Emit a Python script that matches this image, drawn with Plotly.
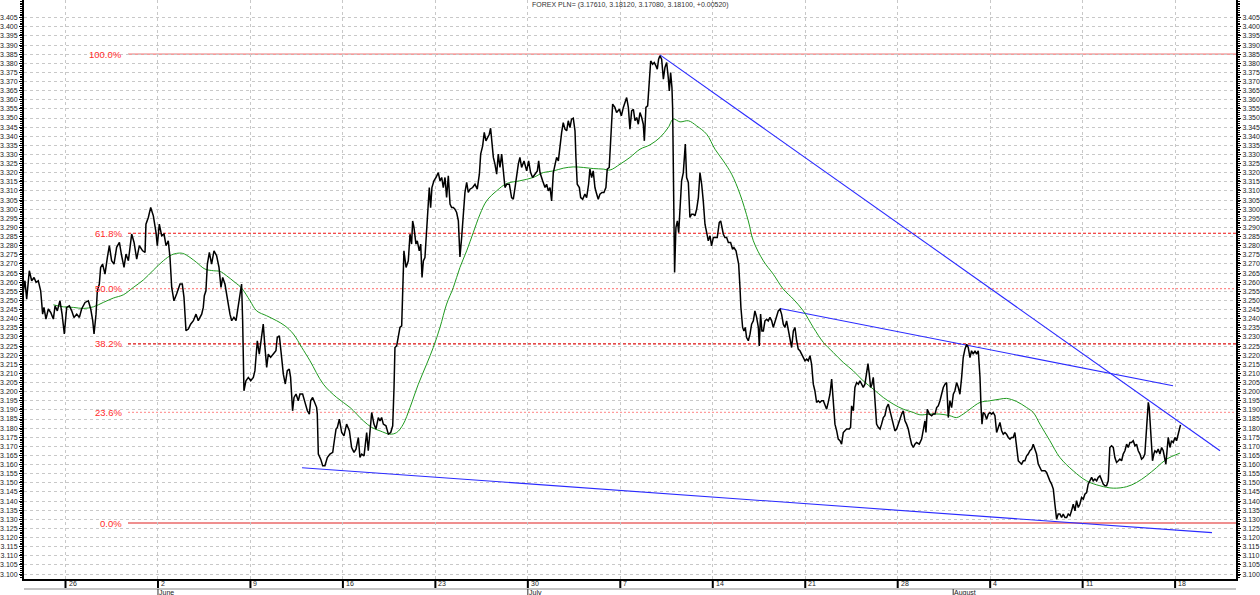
import plotly.graph_objects as go

title_text = "FOREX PLN= (3.17610, 3.18120, 3.17080, 3.18100, +0.00520)"

# price series: (days since 26 May, price)
price_june = [
    (-3.19, 3.2553), (-3.07, 3.2608), (-2.94, 3.2507), (-2.74, 3.2663), (-2.56, 3.2608), (-2.38, 3.2626),
    (-2.23, 3.2599), (-2.06, 3.2608), (-1.88, 3.2553), (-1.73, 3.2425), (-1.63, 3.2462), (-1.48, 3.2398),
    (-1.30, 3.2453), (-1.12, 3.2434), (-0.92, 3.2398), (-0.79, 3.2471), (-0.62, 3.2443), (-0.42, 3.2498),
    (-0.26, 3.2425), (-0.09, 3.2316), (0.09, 3.2462), (0.29, 3.2471), (0.47, 3.2443), (0.64, 3.2407),
    (0.85, 3.2425), (1.05, 3.2407), (1.22, 3.2453), (1.48, 3.2489), (1.73, 3.2498), (1.91, 3.2453),
    (2.06, 3.2389), (2.16, 3.2316), (2.31, 3.2425), (2.41, 3.2553), (2.56, 3.2590), (2.66, 3.2681),
    (2.81, 3.2699), (2.99, 3.2644), (3.17, 3.2736), (3.32, 3.2800), (3.49, 3.2718), (3.67, 3.2699),
    (3.87, 3.2791), (4.08, 3.2818), (4.25, 3.2745), (4.43, 3.2681), (4.58, 3.2754), (4.76, 3.2718),
    (5.01, 3.2864), (5.19, 3.2818), (5.39, 3.2727), (5.59, 3.2800), (5.84, 3.2772), (6.02, 3.2763),
    (6.09, 3.2918), (6.27, 3.2955), (6.45, 3.3010), (6.65, 3.2964), (6.85, 3.2873), (6.95, 3.2800),
    (7.10, 3.2918), (7.28, 3.2855), (7.46, 3.2864), (7.61, 3.2800), (7.78, 3.2827), (7.91, 3.2736),
    (8.04, 3.2571), (8.21, 3.2498), (8.41, 3.2535), (8.67, 3.2590), (8.84, 3.2590), (8.97, 3.2517),
    (9.12, 3.2334), (9.30, 3.2343), (9.47, 3.2370), (9.68, 3.2389), (9.88, 3.2425), (10.05, 3.2389),
    (10.31, 3.2425), (10.43, 3.2462), (10.51, 3.2526), (10.63, 3.2553), (10.74, 3.2699), (10.89, 3.2763),
    (11.06, 3.2699), (11.24, 3.2772), (11.44, 3.2745), (11.62, 3.2681), (11.77, 3.2571), (11.90, 3.2626),
    (12.07, 3.2590), (12.20, 3.2535), (12.33, 3.2462), (12.45, 3.2425), (12.58, 3.2389), (12.75, 3.2407),
    (12.91, 3.2389), (13.08, 3.2480), (13.21, 3.2553), (13.33, 3.2590), (13.41, 3.2389), (13.51, 3.2005),
    (13.66, 3.2060), (13.84, 3.2078), (14.02, 3.2060), (14.22, 3.2078), (14.34, 3.2115), (14.52, 3.2279),
    (14.67, 3.2206), (14.85, 3.2297), (14.97, 3.2370), (15.10, 3.2242), (15.23, 3.2133), (15.35, 3.2206),
    (15.53, 3.2188), (15.73, 3.2206), (15.93, 3.2224), (16.03, 3.2297), (16.19, 3.2306), (16.36, 3.2188),
    (16.49, 3.2096), (16.64, 3.2042), (16.79, 3.2115), (16.94, 3.2124), (17.04, 3.2078), (17.19, 3.1895),
    (17.30, 3.1968), (17.45, 3.1987), (17.62, 3.1950), (17.75, 3.1987), (17.95, 3.1987), (18.13, 3.1941),
    (18.31, 3.1895), (18.46, 3.1877), (18.56, 3.1950), (18.71, 3.1968), (18.89, 3.1932), (19.01, 3.1914),
    (19.06, 3.1877), (19.14, 3.1658), (19.32, 3.1630), (19.47, 3.1594), (19.64, 3.1594), (19.82, 3.1639),
    (20.02, 3.1658), (20.23, 3.1667), (20.35, 3.1731), (20.48, 3.1795), (20.58, 3.1804), (20.73, 3.1849),
    (20.91, 3.1776), (21.08, 3.1758), (21.28, 3.1822), (21.49, 3.1786), (21.66, 3.1694), (21.84, 3.1667),
    (21.99, 3.1685), (22.17, 3.1749), (22.29, 3.1639), (22.42, 3.1658), (22.60, 3.1648), (22.80, 3.1776),
    (22.92, 3.1676), (23.05, 3.1795), (23.18, 3.1886), (23.35, 3.1822), (23.50, 3.1795), (23.68, 3.1858),
    (23.81, 3.1840), (23.93, 3.1858), (24.06, 3.1822), (24.26, 3.1813), (24.44, 3.1767), (24.62, 3.1776),
    (24.77, 3.1813), (24.87, 3.2023), (24.94, 3.2242), (25.07, 3.2251), (25.20, 3.2315), (25.32, 3.2352),
    (25.45, 3.2361), (25.57, 3.2662), (25.62, 3.2772), (25.78, 3.2681), (25.95, 3.2717), (26.08, 3.2863),
    (26.20, 3.2809), (26.28, 3.2936), (26.38, 3.2900), (26.53, 3.2809), (26.63, 3.2827), (26.78, 3.2772),
    (26.89, 3.2809), (26.99, 3.2626), (27.09, 3.2717), (27.21, 3.2735), (27.34, 3.2900), (27.42, 3.3028),
    (27.54, 3.3119), (27.64, 3.3009), (27.74, 3.3119), (27.89, 3.3156), (28.05, 3.3174), (28.22, 3.3201),
    (28.35, 3.3156), (28.48, 3.3174), (28.60, 3.3119), (28.73, 3.3174), (28.85, 3.3064), (28.98, 3.3183),
    (29.11, 3.3028), (29.23, 3.3009), (29.36, 3.3009), (29.48, 3.3000), (29.61, 3.2982), (29.74, 3.2936),
    (29.86, 3.2739), (29.99, 3.2845), (30.12, 3.3009), (30.24, 3.3092), (30.37, 3.3147), (30.49, 3.3092),
    (30.62, 3.3110), (30.82, 3.3119), (31.00, 3.3137), (31.17, 3.3110), (31.33, 3.3192), (31.43, 3.3302),
    (31.58, 3.3347), (31.70, 3.3421), (31.83, 3.3375), (31.93, 3.3393), (32.08, 3.3411), (32.18, 3.3444),
    (32.28, 3.3375), (32.39, 3.3284), (32.51, 3.3247), (32.64, 3.3192), (32.76, 3.3302), (32.89, 3.3229),
    (33.02, 3.3302), (33.14, 3.3192), (33.27, 3.3119), (33.40, 3.3137), (33.60, 3.3137), (33.77, 3.3064),
    (33.90, 3.3055), (34.03, 3.3119),
]

price_july = [
    (34.15, 3.3192), (34.28, 3.3247), (34.40, 3.3284), (34.53, 3.3229), (34.71, 3.3265), (34.91, 3.3210),
    (35.06, 3.3265), (35.21, 3.3201), (35.36, 3.3174), (35.54, 3.3192), (35.72, 3.3210), (35.82, 3.3265),
    (35.92, 3.3201), (36.12, 3.3156), (36.30, 3.3119), (36.42, 3.3137), (36.55, 3.3101), (36.68, 3.3119),
    (36.80, 3.3046), (36.93, 3.3201), (37.05, 3.3247), (37.18, 3.3284), (37.31, 3.3265), (37.43, 3.3357),
    (37.56, 3.3421), (37.68, 3.3475), (37.81, 3.3439), (37.94, 3.3430), (38.06, 3.3485), (38.19, 3.3448),
    (38.31, 3.3494), (38.44, 3.3499), (38.57, 3.3430), (38.64, 3.3284), (38.74, 3.3137), (38.90, 3.3119),
    (39.00, 3.3064), (39.15, 3.3055), (39.32, 3.3083), (39.45, 3.3064), (39.60, 3.3137), (39.70, 3.3220),
    (39.83, 3.3174), (39.95, 3.3210), (40.08, 3.3119), (40.21, 3.3083), (40.33, 3.3055), (40.46, 3.3083),
    (40.61, 3.3092), (40.76, 3.3092), (40.91, 3.3119), (41.01, 3.3220), (41.16, 3.3229), (41.27, 3.3375),
    (41.42, 3.3576), (41.59, 3.3558), (41.72, 3.3530), (41.93, 3.3548), (42.08, 3.3512), (42.23, 3.3558),
    (42.35, 3.3585), (42.48, 3.3612), (42.61, 3.3558), (42.73, 3.3439), (42.86, 3.3539), (42.99, 3.3548),
    (43.11, 3.3485), (43.24, 3.3503), (43.36, 3.3466), (43.49, 3.3530), (43.62, 3.3503), (43.74, 3.3466),
    (43.82, 3.3375), (43.94, 3.3558), (44.07, 3.3567), (44.20, 3.3704), (44.30, 3.3813), (44.45, 3.3795),
    (44.57, 3.3804), (44.70, 3.3786), (44.80, 3.3768), (44.90, 3.3823), (45.00, 3.3841), (45.13, 3.3823),
    (45.26, 3.3713), (45.38, 3.3777), (45.51, 3.3804), (45.63, 3.3722), (45.71, 3.3649), (45.81, 3.3749),
    (45.91, 3.3667), (45.96, 3.3558), (46.06, 3.3009), (46.11, 3.2653), (46.21, 3.2900), (46.32, 3.2936),
    (46.42, 3.2872), (46.52, 3.2991), (46.64, 3.3156), (46.77, 3.3201), (46.92, 3.3357), (47.02, 3.3174),
    (47.15, 3.3147), (47.27, 3.2955), (47.40, 3.2973), (47.53, 3.2973), (47.65, 3.2964), (47.78, 3.3000),
    (47.91, 3.3064), (48.03, 3.3201), (48.16, 3.3137), (48.28, 3.3046), (48.41, 3.2918), (48.54, 3.2872),
    (48.66, 3.2827), (48.79, 3.2854), (48.91, 3.2799), (49.04, 3.2845), (49.17, 3.2845), (49.34, 3.2845),
    (49.49, 3.2927), (49.60, 3.2936), (49.70, 3.2900), (49.80, 3.2863), (49.92, 3.2845), (50.05, 3.2845),
    (50.18, 3.2818), (50.35, 3.2818), (50.50, 3.2781), (50.60, 3.2790), (50.76, 3.2772), (50.86, 3.2735),
    (50.96, 3.2699), (51.06, 3.2571), (51.13, 3.2461), (51.26, 3.2352), (51.36, 3.2333), (51.46, 3.2352),
    (51.56, 3.2297), (51.69, 3.2279), (51.82, 3.2315), (51.94, 3.2370), (52.07, 3.2388), (52.19, 3.2443),
    (52.32, 3.2407), (52.45, 3.2352), (52.52, 3.2251), (52.62, 3.2425), (52.72, 3.2333), (52.83, 3.2333),
    (52.95, 3.2388), (53.08, 3.2397), (53.20, 3.2388), (53.33, 3.2407), (53.46, 3.2388), (53.58, 3.2352),
    (53.71, 3.2388), (53.83, 3.2407), (53.96, 3.2443), (54.09, 3.2452), (54.21, 3.2425), (54.34, 3.2370),
    (54.46, 3.2352), (54.59, 3.2388), (54.72, 3.2333), (54.84, 3.2306), (54.97, 3.2242), (55.10, 3.2333),
    (55.22, 3.2352), (55.35, 3.2279), (55.47, 3.2233), (55.60, 3.2224), (55.73, 3.2206), (55.85, 3.2187),
    (55.98, 3.2169), (56.11, 3.2178), (56.23, 3.2169), (56.36, 3.2197), (56.48, 3.2151), (56.61, 3.2041),
    (56.73, 3.2005), (56.86, 3.1941), (56.99, 3.1950), (57.11, 3.1941), (57.24, 3.1950), (57.37, 3.1950),
    (57.49, 3.1922), (57.62, 3.1904), (57.74, 3.1941), (57.87, 3.1986), (58.00, 3.2069), (58.12, 3.1950),
    (58.25, 3.1822), (58.38, 3.1785), (58.50, 3.1740), (58.63, 3.1731), (58.75, 3.1712), (58.88, 3.1776),
    (59.01, 3.1785), (59.13, 3.1795), (59.33, 3.1795), (59.43, 3.1804), (59.51, 3.1922), (59.64, 3.1895),
    (59.76, 3.2023), (59.89, 3.2050), (60.02, 3.2041), (60.14, 3.2059), (60.27, 3.2041), (60.39, 3.2023),
    (60.52, 3.2041), (60.65, 3.2114), (60.75, 3.2154), (60.85, 3.2096), (60.95, 3.2023), (61.05, 3.2041),
    (61.15, 3.2078), (61.23, 3.2005), (61.30, 3.1913), (61.40, 3.1822), (61.53, 3.1804), (61.66, 3.1795),
    (61.78, 3.1822), (61.91, 3.1858), (62.03, 3.1868), (62.16, 3.1913), (62.29, 3.1932), (62.41, 3.1895),
    (62.54, 3.1849), (62.66, 3.1822), (62.79, 3.1785), (62.92, 3.1795), (63.04, 3.1822), (63.17, 3.1858),
    (63.30, 3.1877), (63.42, 3.1895), (63.55, 3.1840), (63.67, 3.1822), (63.80, 3.1795), (63.93, 3.1749),
    (64.05, 3.1712), (64.18, 3.1694), (64.30, 3.1712),
]

price_august = [
    (64.43, 3.1721), (64.63, 3.1712), (64.81, 3.1740), (64.94, 3.1785), (65.06, 3.1840), (65.14, 3.1776),
    (65.24, 3.1904), (65.39, 3.1877), (65.57, 3.1868), (65.69, 3.1877), (65.82, 3.1877), (65.95, 3.1913),
    (66.07, 3.1922), (66.20, 3.1950), (66.32, 3.1986), (66.45, 3.2023), (66.58, 3.2041), (66.70, 3.2050),
    (66.83, 3.1858), (66.95, 3.1950), (67.08, 3.1913), (67.21, 3.1986), (67.33, 3.2005), (67.46, 3.2050),
    (67.59, 3.2023), (67.71, 3.1986), (67.84, 3.2078), (67.96, 3.2187), (68.09, 3.2233), (68.22, 3.2260),
    (68.34, 3.2242), (68.47, 3.2187), (68.59, 3.2224), (68.72, 3.2206), (68.85, 3.2224), (68.97, 3.2206),
    (69.10, 3.2224), (69.23, 3.2078), (69.30, 3.1932), (69.38, 3.1822), (69.48, 3.1886), (69.60, 3.1877),
    (69.73, 3.1849), (69.86, 3.1877), (69.98, 3.1886), (70.11, 3.1877), (70.23, 3.1886), (70.36, 3.1868),
    (70.49, 3.1776), (70.61, 3.1804), (70.74, 3.1831), (70.87, 3.1785), (70.99, 3.1767), (71.12, 3.1776),
    (71.24, 3.1767), (71.37, 3.1749), (71.50, 3.1740), (71.62, 3.1749), (71.75, 3.1749), (71.87, 3.1776),
    (72.00, 3.1712), (72.13, 3.1621), (72.25, 3.1612), (72.38, 3.1603), (72.51, 3.1621), (72.63, 3.1621),
    (72.76, 3.1648), (72.88, 3.1658), (73.01, 3.1676), (73.14, 3.1685), (73.26, 3.1712), (73.39, 3.1685),
    (73.51, 3.1658), (73.64, 3.1603), (73.77, 3.1584), (73.89, 3.1566), (74.02, 3.1566), (74.15, 3.1566),
    (74.27, 3.1557), (74.40, 3.1530), (74.52, 3.1511), (74.65, 3.1493), (74.78, 3.1466), (74.90, 3.1383),
    (75.03, 3.1301), (75.15, 3.1329), (75.28, 3.1329), (75.41, 3.1310), (75.53, 3.1329), (75.66, 3.1310),
    (75.79, 3.1310), (75.91, 3.1329), (76.04, 3.1320), (76.16, 3.1347), (76.29, 3.1383), (76.42, 3.1347),
    (76.54, 3.1402), (76.67, 3.1365), (76.79, 3.1383), (76.92, 3.1420), (77.05, 3.1411), (77.17, 3.1438),
    (77.30, 3.1447), (77.42, 3.1493), (77.55, 3.1511), (77.68, 3.1530), (77.80, 3.1511), (77.93, 3.1521),
    (78.06, 3.1511), (78.18, 3.1530), (78.31, 3.1539), (78.43, 3.1511), (78.56, 3.1493), (78.69, 3.1484),
    (78.81, 3.1484), (78.94, 3.1511), (79.06, 3.1694), (79.19, 3.1703), (79.32, 3.1694), (79.44, 3.1639),
    (79.57, 3.1612), (79.70, 3.1621), (79.82, 3.1630), (79.95, 3.1621), (80.07, 3.1658), (80.20, 3.1676),
    (80.33, 3.1712), (80.45, 3.1694), (80.58, 3.1721), (80.70, 3.1721), (80.83, 3.1731), (80.96, 3.1703),
    (81.08, 3.1712), (81.21, 3.1676), (81.34, 3.1658), (81.46, 3.1630), (81.59, 3.1639), (81.71, 3.1658),
    (81.84, 3.1785), (81.97, 3.1941), (82.04, 3.1913), (82.14, 3.1785), (82.22, 3.1639), (82.29, 3.1621),
    (82.39, 3.1658), (82.47, 3.1676), (82.60, 3.1667), (82.72, 3.1685), (82.85, 3.1658), (82.98, 3.1694),
    (83.10, 3.1676), (83.23, 3.1639), (83.30, 3.1603), (83.41, 3.1694), (83.48, 3.1749), (83.61, 3.1694),
    (83.73, 3.1731), (83.86, 3.1721), (83.99, 3.1749), (84.11, 3.1731), (84.24, 3.1767), (84.36, 3.1804),
    (84.41, 3.1818),
]

# green moving average (days, value)
moving_avg = [
    (-0.92, 3.2476), (-0.16, 3.2465), (0.59, 3.2462), (1.35, 3.2456), (2.11, 3.2465), (2.86, 3.2489),
    (3.62, 3.2513), (4.38, 3.2531), (5.13, 3.2571), (5.89, 3.2612), (6.65, 3.2666), (7.41, 3.2718),
    (8.04, 3.2750), (8.41, 3.2758), (8.87, 3.2758), (9.42, 3.2736), (9.93, 3.2708), (10.56, 3.2672),
    (11.19, 3.2663), (11.70, 3.2659), (12.20, 3.2635), (12.83, 3.2599), (13.33, 3.2568), (13.97, 3.2498),
    (14.47, 3.2443), (15.23, 3.2416), (15.98, 3.2389), (16.61, 3.2361), (17.25, 3.2316), (17.88, 3.2243),
    (18.51, 3.2169), (19.52, 3.2041), (20.53, 3.1968), (21.54, 3.1913), (22.55, 3.1840), (23.18, 3.1804),
    (23.81, 3.1785), (24.56, 3.1767), (25.07, 3.1776), (25.57, 3.1822), (26.08, 3.1913), (26.71, 3.2041),
    (27.34, 3.2151), (27.84, 3.2242), (28.35, 3.2352), (28.85, 3.2480), (29.36, 3.2571), (29.86, 3.2681),
    (30.37, 3.2772), (30.87, 3.2872), (31.38, 3.2973), (31.88, 3.3046), (32.64, 3.3101), (33.40, 3.3141),
    (34.40, 3.3156), (35.41, 3.3174), (36.17, 3.3201), (36.93, 3.3210), (37.68, 3.3225), (38.44, 3.3232),
    (39.20, 3.3229), (39.95, 3.3223), (40.71, 3.3220), (41.22, 3.3215), (41.98, 3.3247), (42.73, 3.3284),
    (43.49, 3.3329), (44.25, 3.3353), (45.00, 3.3393), (45.63, 3.3448), (46.01, 3.3494), (46.52, 3.3479),
    (47.15, 3.3485), (47.78, 3.3457), (48.54, 3.3411), (49.17, 3.3329), (49.80, 3.3265), (50.43, 3.3192),
    (51.06, 3.3083), (51.69, 3.2936), (52.07, 3.2827), (52.83, 3.2717), (53.58, 3.2644), (54.34, 3.2562),
    (55.10, 3.2507), (55.85, 3.2443), (56.61, 3.2352), (57.37, 3.2270), (58.12, 3.2215), (58.88, 3.2160),
    (59.64, 3.2114), (60.39, 3.2059), (61.15, 3.2014), (61.91, 3.1968), (62.66, 3.1932), (63.42, 3.1904),
    (64.18, 3.1886), (64.68, 3.1873), (65.44, 3.1877), (66.20, 3.1877), (66.95, 3.1868), (67.46, 3.1858),
    (67.96, 3.1877), (68.47, 3.1904), (69.23, 3.1941), (69.98, 3.1950), (70.74, 3.1959), (71.24, 3.1963),
    (72.00, 3.1946), (72.76, 3.1913), (73.26, 3.1886), (73.77, 3.1822), (74.52, 3.1731), (75.28, 3.1639),
    (76.29, 3.1566), (77.30, 3.1511), (78.31, 3.1484), (79.32, 3.1471), (80.33, 3.1479), (81.08, 3.1502),
    (81.84, 3.1539), (82.60, 3.1584), (83.35, 3.1630), (84.36, 3.1663),
]

# trend lines: (day, price) end points
trend_support = [(17.90, 3.1583), (86.79, 3.1227)]
trend_upper = [(45.00, 3.3846), (87.40, 3.1676)]
trend_middle = [(54.09, 3.2456), (83.84, 3.2032)]

# week ticks
week_days = [0, 7, 14, 21, 28, 35, 42, 49, 56, 63, 70, 77, 84]
week_labels = ["26", "2", "9", "16", "23", "30", "7", "14", "21", "28", "4", "11", "18"]
month_days = [7, 35, 67.2]
month_labels = ["June", "July", "August"]

# price axis labels
price_ticks = [round(3.100 + 0.005 * i, 3) for i in range(62)]

# Fibonacci retracement
fib_high = 3.385
fib_low = 3.128
fib_ratios = [1.0, 0.618, 0.5, 0.382, 0.236, 0.0]
fib_names = ["100.0%", "61.8%", "50.0%", "38.2%", "23.6%", "0.0%"]
fib_styles = [
    dict(color="#f07878", width=1.2, dash="solid"),
    dict(color="#ee1111", width=1.2, dash="3px,2px"),
    dict(color="#ff8a8a", width=1.2, dash="2px,2px"),
    dict(color="#dd1111", width=1.2, dash="3px,2px"),
    dict(color="#ff9c9c", width=1.2, dash="2px,2px"),
    dict(color="#e02020", width=1.2, dash="solid"),
]

X_RANGE = [-3.142, 88.61]
Y_RANGE = [3.0973, 3.4147]
FONT = "Liberation Sans, Arial, sans-serif"
PLOT_H = 595 - 16

price_all = price_june + price_july + price_august

fig = go.Figure()

for seg in (trend_support, trend_upper, trend_middle):
    fig.add_trace(go.Scatter(
        x=[a for a, b in seg], y=[b for a, b in seg], mode="lines",
        line=dict(color="#2a2aff", width=1.1), hoverinfo="skip", showlegend=False))

fig.add_trace(go.Scatter(
    x=[a for a, b in moving_avg], y=[b for a, b in moving_avg], mode="lines",
    line=dict(color="#1f9a1f", width=1), line_shape="spline", hoverinfo="skip", showlegend=False))

fig.add_trace(go.Scatter(
    x=[a for a, b in price_all], y=[b for a, b in price_all], mode="lines",
    line=dict(color="#000000", width=1.5), hoverinfo="skip", showlegend=False))

# invisible trace to enable the right-hand price axis
fig.add_trace(go.Scatter(
    x=[price_all[-1][0]], y=[price_all[-1][1]], yaxis="y2", mode="markers",
    marker=dict(opacity=0), hoverinfo="skip", showlegend=False))

shapes = []
annotations = []
for r, name, st in zip(fib_ratios, fib_names, fib_styles):
    lvl = fib_low + r * (fib_high - fib_low)
    shapes.append(dict(type="line", xref="x domain", yref="y", x0=0.0858, x1=1,
                       y0=lvl, y1=lvl, line=st, layer="below"))
    annotations.append(dict(xref="x domain", yref="y", x=0.0825, y=lvl, text=name,
                            showarrow=False, xanchor="right", yanchor="middle",
                            font=dict(family=FONT, size=9.5, color="#ff2a2a")))

# week tick marks reaching down to the strip, with their day labels beside them
for wd, wl in zip(week_days, week_labels):
    shapes.append(dict(type="line", xref="x", yref="paper", x0=wd, x1=wd,
                       y0=0, y1=-9 / PLOT_H, line=dict(color="#000000", width=2)))
    annotations.append(dict(xref="x", yref="paper", x=wd, y=-4.5 / PLOT_H, text=wl,
                            showarrow=False, xanchor="left", yanchor="middle", xshift=1,
                            font=dict(family=FONT, size=7, color="#222222")))

# strip below the date labels
shapes.append(dict(type="line", xref="paper", yref="paper", x0=0, x1=1,
                   y0=-10 / PLOT_H, y1=-10 / PLOT_H, line=dict(color="#c4c4c4", width=2)))
for md, ml in zip(month_days, month_labels):
    shapes.append(dict(type="line", xref="x", yref="paper", x0=md, x1=md,
                       y0=-10 / PLOT_H, y1=-17 / PLOT_H, line=dict(color="#333333", width=1)))
    annotations.append(dict(xref="x", yref="paper", x=md, y=-13.5 / PLOT_H, text=ml,
                            showarrow=False, xanchor="left", yanchor="middle", xshift=-1,
                            font=dict(family=FONT, size=7, color="#222222")))

annotations.append(dict(xref="paper", yref="paper", x=0.5, y=1, yshift=1, text=title_text,
                        showarrow=False, xanchor="center", yanchor="top",
                        font=dict(family=FONT, size=7, color="#333333")))

yaxis_common = dict(
    range=Y_RANGE, tickvals=price_ticks, tickformat=".3f", automargin=False,
    ticks="outside", ticklen=3, tickwidth=1, tickcolor="#000000",
    tickfont=dict(family=FONT, size=7, color="#222222"),
    showline=True, linecolor="#000000", linewidth=2, zeroline=False,
    minor=dict(dtick=0.001, tick0=3.1, ticks="outside", ticklen=2, tickcolor="#000000",
               showgrid=False),
)

fig.update_layout(
    width=1260, height=595,
    margin=dict(l=24, r=24, t=0, b=16),
    paper_bgcolor="white", plot_bgcolor="white",
    showlegend=False,
    hovermode=False,
    xaxis=dict(
        range=X_RANGE, tickvals=week_days, showticklabels=False, automargin=False,
        ticks="",
        showline=True, linecolor="#000000", linewidth=2, zeroline=False,
        showgrid=True, gridcolor="#c8c8c8", gridwidth=1, griddash="3px,3px",
    ),
    yaxis=dict(**yaxis_common, side="left", showgrid=True, gridcolor="#c8c8c8",
               gridwidth=1, griddash="3px,3px"),
    yaxis2=dict(**yaxis_common, side="right", overlaying="y", showgrid=False),
    shapes=shapes,
    annotations=annotations,
)

fig.write_html(
    "out.html",
    config={"displayModeBar": False, "staticPlot": True},
    post_script="document.body.style.margin='0px';document.body.style.overflow='hidden';",
)
